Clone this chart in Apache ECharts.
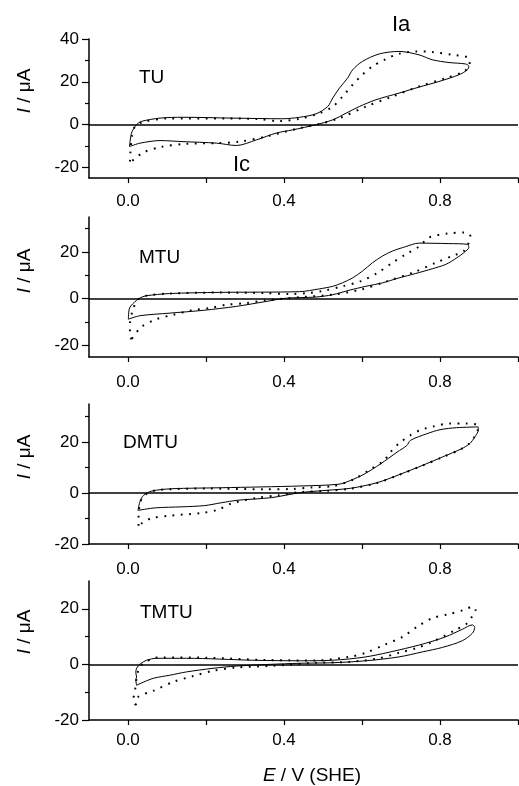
<!DOCTYPE html>
<html><head><meta charset="utf-8">
<script src="https://cdn.jsdelivr.net/npm/echarts@6/dist/echarts.min.js"></script>
<style>html,body{margin:0;padding:0;background:#fff}#c{width:519px;height:786px}</style>
</head><body><div id="c"></div>
<script>
// ---- data: [E / V (SHE), I / µA] ----
const panelNames = ['TU', 'MTU', 'DMTU', 'TMTU'];
const xMajorTicks = [0, 0.2, 0.4, 0.6, 0.8, 1.0];
const xLabels = [0, 0.4, 0.8];
const yRanges = [[-25, 40], [-25, 35], [-20, 35], [-20, 30]];
const yLabelTicks = [[-20, 0, 20, 40], [-20, 0, 20], [-20, 0, 20], [-20, 0, 20]];
const yMinorTicks = [[-10, 10, 30], [-10, 10, 30], [-10, 10, 30], [-10, 10]];

const tuSolid = [[0.004,-10.3],[0.009,-4],[0.022,0],[0.035,1.5],[0.082,3.0],[0.141,3.4],[0.269,3.0],[0.397,2.7],[0.44,3.4],[0.482,5.0],[0.512,8.4],[0.525,12.4],[0.542,17],[0.563,21.7],[0.576,25.6],[0.601,29.5],[0.644,33],[0.695,34.2],[0.746,32.6],[0.780,30.3],[0.823,29],[0.866,28.3],[0.874,27.2],[0.870,25.6],[0.849,23.3],[0.797,20.1],[0.746,17.5],[0.695,14.7],[0.636,11.6],[0.593,8.4],[0.559,5.3],[0.525,2.2],[0.482,-0.1],[0.422,-2.5],[0.380,-4],[0.329,-7.2],[0.278,-9.8],[0.227,-8.7],[0.141,-8],[0.082,-7.5],[0.031,-8.7],[0.004,-10.3]];
const tuDotted = [[0.005,-17.3],[0.006,-13.4],[0.010,-5.6],[0.018,-0.9],[0.039,1.2],[0.10,2.8],[0.25,2.8],[0.33,2.6],[0.389,1.6],[0.44,2.7],[0.491,5.3],[0.525,8.4],[0.550,13.1],[0.576,18.6],[0.601,23.3],[0.627,27.2],[0.661,30.6],[0.695,33.1],[0.738,34.2],[0.780,33.9],[0.832,32.6],[0.874,31.1],[0.876,28],[0.861,24.8],[0.815,21.7],[0.746,17.8],[0.678,13.1],[0.610,8.4],[0.542,3.0],[0.491,0.3],[0.440,-1.7],[0.354,-5.6],[0.286,-8],[0.227,-8.7],[0.150,-9],[0.082,-10.6],[0.039,-13.1],[0.014,-16.5],[0.005,-17.3]];

const mtuSolid = [[0.001,-8.8],[0.004,-4],[0.022,-0.7],[0.031,0.3],[0.045,1.2],[0.107,2.2],[0.235,2.7],[0.44,3.0],[0.491,4.2],[0.525,5.3],[0.550,6.8],[0.576,8.9],[0.601,11.8],[0.627,15.4],[0.653,18.3],[0.678,20.4],[0.712,22.3],[0.746,23.8],[0.823,23.6],[0.870,23.3],[0.874,22],[0.861,19.7],[0.844,17.6],[0.815,14.7],[0.780,12.8],[0.738,10.8],[0.695,8.9],[0.653,6.8],[0.610,5.3],[0.567,3.6],[0.525,1.7],[0.482,0.7],[0.406,0.2],[0.354,-1.2],[0.278,-3.3],[0.193,-5.0],[0.107,-6.2],[0.031,-7.3],[0.001,-8.8]];
const mtuDotted = [[0.009,-17.4],[0.005,-15.1],[0.005,-11.2],[0.012,-5],[0.025,-0.5],[0.045,1.2],[0.107,2.2],[0.235,2.6],[0.35,2.4],[0.414,2.0],[0.46,2.4],[0.50,3.3],[0.550,5.3],[0.597,7.5],[0.640,11.1],[0.678,15.4],[0.712,19],[0.746,22.3],[0.772,26.2],[0.819,27.9],[0.864,28.4],[0.878,26.7],[0.861,20.4],[0.836,18.6],[0.789,15.4],[0.734,11.4],[0.665,7.5],[0.597,3.9],[0.525,1.7],[0.448,0.7],[0.354,-0.7],[0.303,-1.9],[0.252,-2.6],[0.210,-4.0],[0.163,-5.0],[0.116,-6.9],[0.073,-8.8],[0.035,-12],[0.009,-17.4]];

const dmtuSolid = [[0.0255,-6.8],[0.031,-3.2],[0.040,-0.9],[0.061,0.8],[0.112,1.7],[0.239,2.1],[0.443,2.8],[0.541,3.5],[0.571,5.0],[0.605,7.4],[0.647,11.4],[0.690,16.1],[0.715,18.7],[0.724,20.7],[0.766,23.3],[0.800,24.9],[0.843,25.7],[0.898,26.0],[0.898,24.7],[0.889,22.0],[0.876,19.4],[0.855,17.4],[0.808,14.3],[0.757,11.0],[0.698,7.4],[0.639,4.1],[0.571,1.9],[0.511,1.1],[0.443,0.2],[0.367,-1.8],[0.282,-2.8],[0.239,-3.8],[0.197,-4.9],[0.138,-5.4],[0.070,-5.8],[0.0255,-6.8]];
const dmtuDotted = [[0.027,-12.8],[0.027,-9.8],[0.031,-3.8],[0.040,-1.2],[0.053,0.2],[0.08,1.3],[0.2,1.8],[0.35,1.5],[0.42,1.6],[0.47,2.2],[0.528,2.8],[0.579,5.4],[0.622,9.4],[0.656,12.7],[0.673,16.1],[0.694,19.4],[0.724,22.7],[0.749,24.7],[0.783,26.2],[0.825,27.3],[0.868,27.3],[0.898,26.6],[0.896,24.2],[0.887,21.8],[0.873,19.2],[0.853,17.2],[0.806,14.1],[0.755,10.8],[0.696,7.2],[0.637,3.9],[0.569,1.7],[0.509,0.9],[0.443,0.4],[0.384,-0.9],[0.333,-1.8],[0.265,-4.1],[0.231,-6.5],[0.189,-7.8],[0.104,-8.9],[0.061,-9.8],[0.036,-11.8],[0.027,-12.8]];

const tmtuSolid = [[0.022,-7.5],[0.020,-5.5],[0.022,-4.5],[0.020,-3],[0.022,-1.4],[0.031,0.1],[0.048,1.5],[0.073,2.2],[0.150,2.2],[0.320,1.5],[0.440,1.3],[0.525,1.5],[0.610,2.7],[0.695,5.2],[0.763,7.6],[0.814,9.9],[0.857,12.6],[0.883,14.2],[0.889,13.3],[0.883,11.2],[0.857,8.5],[0.806,6.1],[0.755,4.5],[0.695,2.7],[0.610,1.3],[0.525,0.6],[0.440,0.4],[0.362,0],[0.278,-0.6],[0.218,-1.4],[0.150,-2.7],[0.107,-3.9],[0.065,-5.0],[0.031,-6.9],[0.022,-7.5]];
const tmtuDotted = [[0.020,-14.7],[0.014,-12.5],[0.018,-9.3],[0.022,-5],[0.027,-2],[0.039,0.4],[0.065,2.2],[0.077,2.5],[0.20,2.4],[0.35,1.6],[0.48,1.4],[0.567,2.7],[0.610,4.2],[0.657,7.0],[0.704,9.9],[0.742,13.6],[0.780,16.6],[0.823,18.1],[0.866,19.8],[0.883,20.8],[0.891,19.6],[0.883,17.4],[0.870,14.8],[0.840,12.4],[0.780,8.1],[0.738,5.8],[0.695,4.2],[0.644,2.2],[0.567,0.9],[0.482,0.6],[0.371,-0.5],[0.278,-1.1],[0.218,-2.3],[0.167,-4.2],[0.116,-6.3],[0.065,-9.5],[0.026,-11.7],[0.020,-14.7]];

const solidCurves = [tuSolid, mtuSolid, dmtuSolid, tmtuSolid];
const dottedCurves = [tuDotted, mtuDotted, dmtuDotted, tmtuDotted];

// ---- layout ----
const FONT = 'Liberation Sans, Arial, Helvetica, sans-serif';
const grids = [
  {left: 89, top: 39, width: 429, height: 139},
  {left: 89, top: 217, width: 429, height: 140},
  {left: 89, top: 404, width: 429, height: 140},
  {left: 89, top: 581, width: 429, height: 139}
];
const xMargins = [15, 17, 17, 12];
const titleY = [91, 271, 457, 632];
const nameLabelPos = [[139, 78], [139, 258], [123, 443], [140, 613]];

const xAxes = [], yAxes = [], series = [], graphics = [];
grids.forEach((g, i) => {
  xAxes.push({
    type: 'value', gridIndex: i, min: -0.1, max: 1.0, position: 'bottom',
    axisLine: {show: true, onZero: false, lineStyle: {color: '#000', width: 1.5}},
    axisTick: {show: true, inside: false, length: 5, customValues: xMajorTicks, lineStyle: {color: '#000', width: 1.2}},
    axisLabel: {show: true, customValues: xLabels, margin: xMargins[i], color: '#000', fontSize: 17, fontFamily: FONT,
      formatter: v => v.toFixed(1)},
    splitLine: {show: false}
  });
  const [mn, mx] = yRanges[i];
  yAxes.push({
    type: 'value', gridIndex: i, min: mn, max: mx, position: 'left',
    axisLine: {show: true, onZero: false, lineStyle: {color: '#000', width: 1.5}},
    axisTick: {show: true, inside: false, length: 7, customValues: yLabelTicks[i], lineStyle: {color: '#000', width: 1.2}},
    axisLabel: {show: true, customValues: yLabelTicks[i], margin: 10, color: '#000', fontSize: 17, fontFamily: FONT},
    splitLine: {show: false}
  });
  yAxes.push({
    type: 'value', gridIndex: i, min: mn, max: mx, position: 'left', offset: 0,
    axisLine: {show: false, onZero: false},
    axisTick: {show: true, inside: false, length: 4, customValues: yMinorTicks[i], lineStyle: {color: '#000', width: 1.2}},
    axisLabel: {show: false},
    splitLine: {show: false}
  });
  series.push({
    type: 'line', xAxisIndex: i, yAxisIndex: 2 * i, data: solidCurves[i],
    showSymbol: false, smooth: 0.3, animation: false, clip: true,
    lineStyle: {color: '#000', width: 1},
    markLine: {silent: true, symbol: 'none', animation: false, label: {show: false},
      lineStyle: {color: '#000', width: 1.6, type: 'solid'}, data: [{yAxis: 0}]}
  });
  series.push({
    type: 'line', xAxisIndex: i, yAxisIndex: 2 * i, data: dottedCurves[i],
    showSymbol: false, smooth: 0.3, animation: false, clip: true,
    lineStyle: {color: '#000', width: 2, type: [1.8, 6.5], cap: 'butt'}
  });
  graphics.push({
    type: 'text', x: 25, y: titleY[i], rotation: Math.PI / 2,
    style: {text: '{i|I} / μA', align: 'center', verticalAlign: 'middle', fill: '#000',
      font: '19px ' + FONT, rich: {i: {fontStyle: 'italic', fontSize: 19, fontFamily: FONT, fill: '#000'}}}
  });
  graphics.push({
    type: 'text', x: nameLabelPos[i][0], y: nameLabelPos[i][1],
    style: {text: panelNames[i], align: 'left', verticalAlign: 'middle', fill: '#000', font: '19px ' + FONT}
  });
});
graphics.push({type: 'text', x: 392, y: 25, style: {text: 'Ia', align: 'left', verticalAlign: 'middle', fill: '#000', font: '22px ' + FONT}});
graphics.push({type: 'text', x: 233, y: 165, style: {text: 'Ic', align: 'left', verticalAlign: 'middle', fill: '#000', font: '22px ' + FONT}});
graphics.push({
  type: 'text', x: 312, y: 776,
  style: {text: '{i|E} / V (SHE)', align: 'center', verticalAlign: 'middle', fill: '#000',
    font: '19px ' + FONT, rich: {i: {fontStyle: 'italic', fontSize: 19, fontFamily: FONT, fill: '#000'}}}
});

const chart = echarts.init(document.getElementById('c'), null, {renderer: 'canvas'});
chart.setOption({
  animation: false,
  backgroundColor: '#fff',
  grid: grids,
  xAxis: xAxes,
  yAxis: yAxes,
  series: series,
  graphic: graphics
});
</script></body></html>
